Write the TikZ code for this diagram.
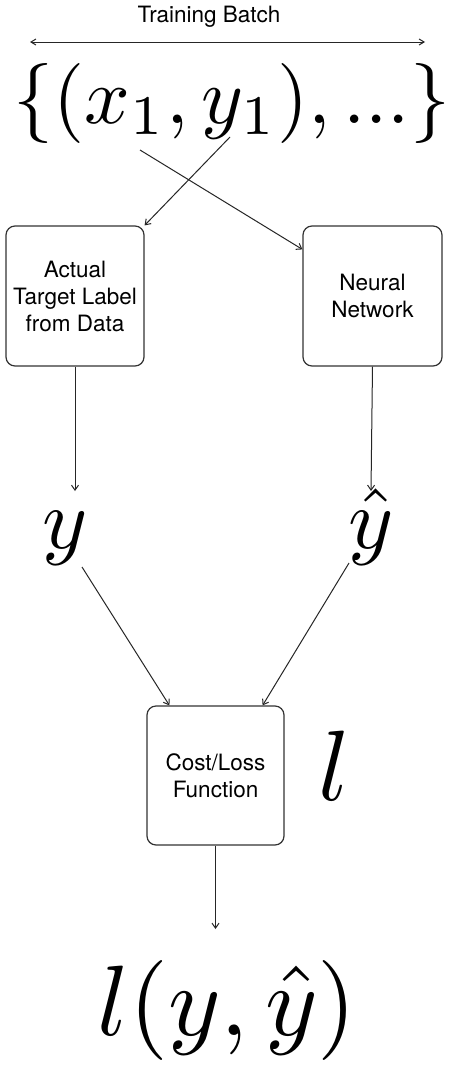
\documentclass[tikz,border=0pt]{standalone}
\usepackage{graphicx}
\usepackage{fontspec}
\newfontfamily\labfam{TeX Gyre Heros}
\usetikzlibrary{arrows.meta}
\newcommand{\labfont}{\labfam\fontsize{22.5}{27}\selectfont}
\begin{document}
\begin{tikzpicture}[x=1pt,y=-1pt,
  box/.style={draw=black!80, line width=1.2pt, rounded corners=9pt, minimum width=138pt, minimum height=140pt, align=center, font=\labfont, inner sep=0pt},
  arr/.style={-{Straight Barb[length=5pt,width=7pt]}, line width=1pt, draw=black!85},
  mth/.style={inner sep=0pt, anchor=base}]
\useasboundingbox (0,0) rectangle (450,1068);
\fill[white] (0,0) rectangle (450,1068);

\node[anchor=base, font=\labfont, inner sep=0pt] (tb) at (209,23) {Training Batch};
\coordinate (bl) at (30,42);
\coordinate (br) at (425,42);
\draw[{Straight Barb[length=5pt,width=6pt]}-{Straight Barb[length=5pt,width=6pt]}, line width=1pt, draw=black!85] (bl) -- (br);

\node[mth] (set) at (232,123) {\scalebox{8}{$\{(x_1,y_1),...\}$}};
\coordinate (sx) at (140,150);
\coordinate (sy) at (230,137);

\node[box] (lab) at (75,296) {Actual\\Target Label\\from Data};
\node[box, minimum width=139pt] (nn) at (372.5,296) {Neural\\Network};

\draw[arr] (sy) -- (lab.north east);
\draw[arr] (sx) -- ([yshift=-24pt]nn.north west);

\node[mth] (y) at (65,548) {\scalebox{8.6}{$y$}};
\node[mth] (yh) at (371,548) {\scalebox{8.6}{$\hat{y}$}};

\draw[arr] (lab.south) -- (75,491) coordinate (ya);
\draw[arr] (nn.south) -- (371,491) coordinate (yha);

\node[box, minimum width=137pt, minimum height=139pt] (cost) at (215.5,775.5) {Cost/Loss\\Function};
\node[mth] (l) at (334,800) {\scalebox{10}{$l$}};

\coordinate (ys) at (82,567);
\coordinate (yhs) at (349,563);
\draw[arr] (ys) -- ([xshift=23pt]cost.north west);
\draw[arr] (yhs) -- ([xshift=-22pt]cost.north east);

\node[mth] (out) at (227,1035) {\scalebox{10}{$l(y,\hat{y})$}};
\draw[arr] (cost.south) -- (215.5,929) coordinate (oa);
\end{tikzpicture}
\end{document}
